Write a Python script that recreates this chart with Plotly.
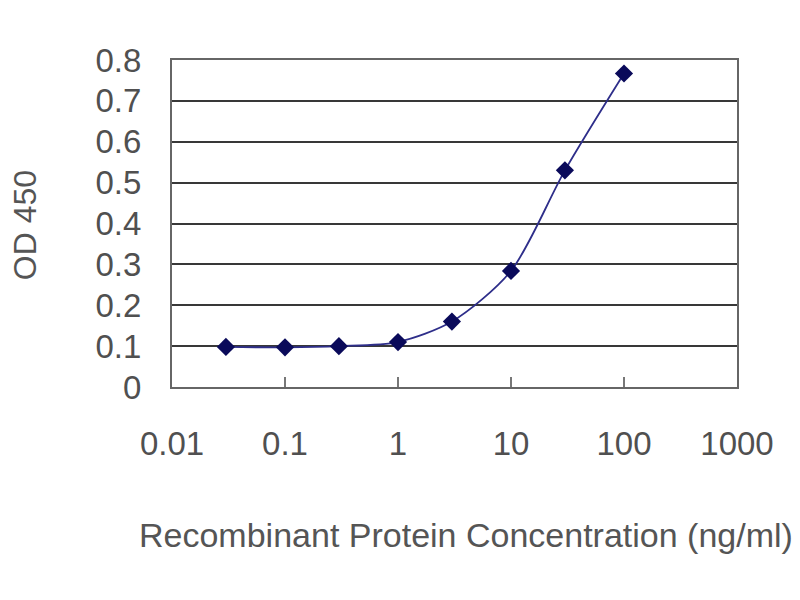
import plotly.graph_objects as go

# ELISA standard curve
concentration = [0.03, 0.1, 0.3, 1, 3, 10, 30, 100]
od_450 = [0.098, 0.097, 0.100, 0.110, 0.160, 0.284, 0.530, 0.767]

x_tick_vals = [0.01, 0.1, 1, 10, 100, 1000]
x_tick_text = ["0.01", "0.1", "1", "10", "100", "1000"]
y_tick_vals = [0, 0.1, 0.2, 0.3, 0.4, 0.5, 0.6, 0.7, 0.8]
y_tick_text = ["0", "0.1", "0.2", "0.3", "0.4", "0.5", "0.6", "0.7", "0.8"]

x_title = "Recombinant Protein Concentration (ng/ml)"
y_title = "OD 450"

fig = go.Figure()
fig.add_trace(go.Scatter(x=concentration, y=od_450, mode='lines+markers',
                         line=dict(color='#2e2e8a', width=1.8, shape='spline', smoothing=0.8),
                         marker=dict(symbol='diamond', size=14, color='#0a0a5a'),
                         showlegend=False))

font_name = "Liberation Sans, Arial, sans-serif"
fig.update_layout(width=800, height=600, plot_bgcolor='white', paper_bgcolor='white',
                  margin=dict(l=164, r=71, t=52, b=221),
                  font=dict(family=font_name, color='#505050'))
fig.update_xaxes(type='log', range=[-2, 3], tickvals=x_tick_vals, ticktext=x_tick_text,
                 ticks='inside', ticklen=10, tickcolor='#777777', tickwidth=1.5,
                 showgrid=False, showline=True, linecolor='#666666', linewidth=2, mirror=True,
                 tickfont=dict(size=33, color='#505050'), ticklabelstandoff=26,
                 automargin=False, zeroline=False)
fig.update_yaxes(range=[0, 0.8], tickvals=y_tick_vals, ticktext=y_tick_text,
                 showgrid=True, gridcolor='#383838', gridwidth=2,
                 showline=True, linecolor='#666666', linewidth=2, mirror=True,
                 tickfont=dict(size=33, color='#505050'), ticklabelstandoff=22,
                 automargin=False, zeroline=False)

# axis titles placed as annotations to match the original layout
fig.add_annotation(text=x_title, xref='paper', yref='paper', x=-0.062, y=-0.453,
                   xanchor='left', yanchor='middle', showarrow=False,
                   font=dict(size=34, color='#555555'))
fig.add_annotation(text=y_title, xref='paper', yref='paper', x=-0.26, y=0.495,
                   xanchor='center', yanchor='middle', textangle=-90, showarrow=False,
                   font=dict(size=32, color='#555555'))

fig.write_html("out.html")
